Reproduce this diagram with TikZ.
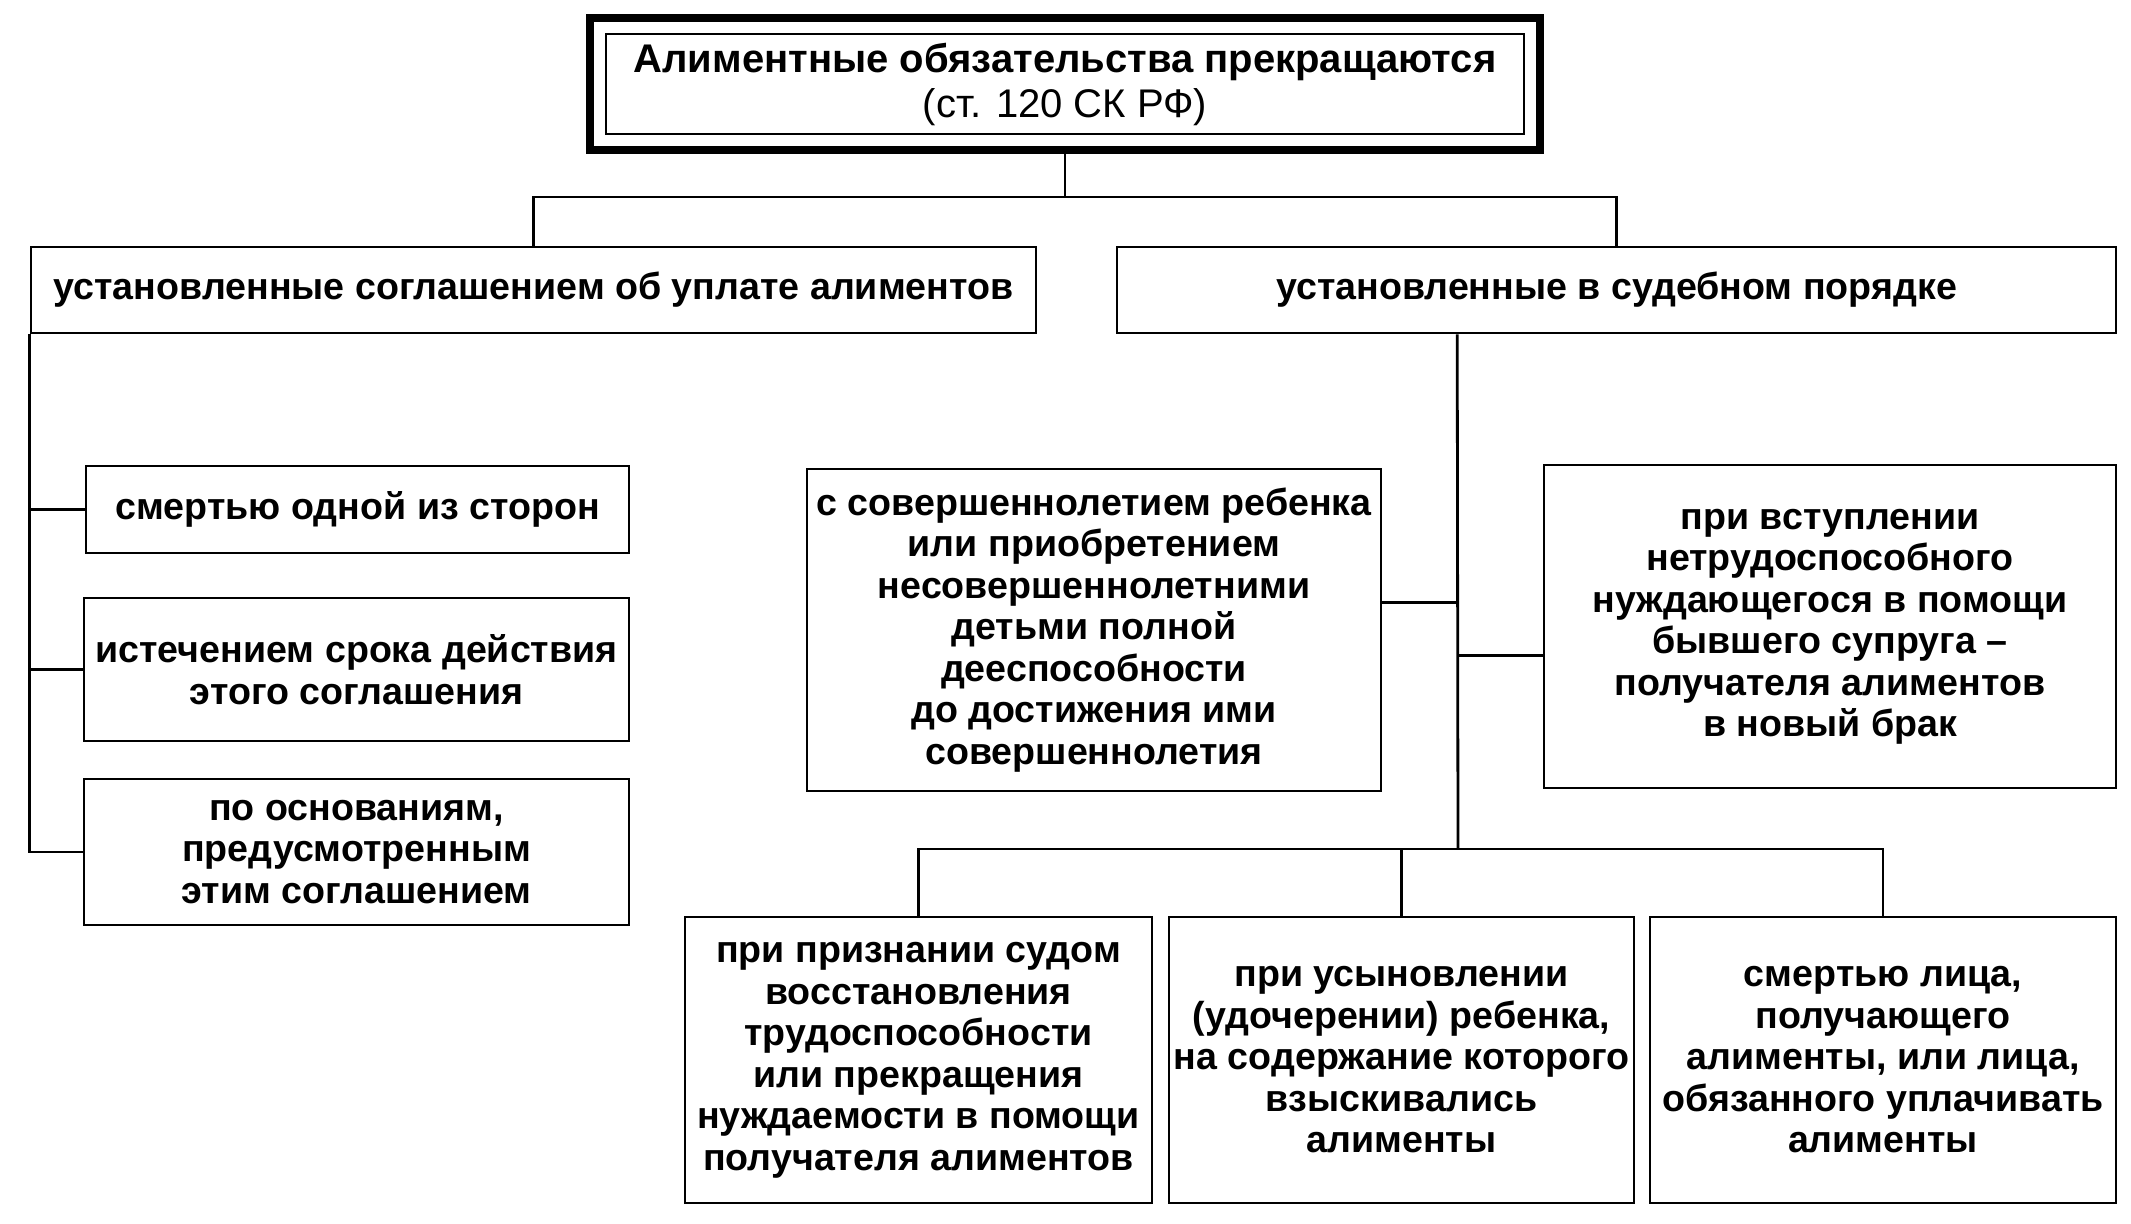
\documentclass[tikz,border=0pt]{standalone}
\usepackage{fontspec}
\setmainfont{Liberation Sans}
\usetikzlibrary{calc, fit}

\begin{document}
\begin{tikzpicture}[x=0.5pt, y=-0.5pt,
	box/.style={draw, line width=1.4pt, align=center, inner sep=1pt, font=\fontsize{18.8}{20.75}\selectfont\bfseries},
	link/.style={line width=1.4pt}]

	\useasboundingbox (0,0) rectangle (2131,1223);

	% Title
	\node[box, minimum width=459pt, minimum height=50pt, font=\fontsize{20}{22.5}\selectfont] (title) at (1065,84) {\textbf{Алиментные обязательства прекращаются}\\(ст. 120 СК РФ)};
	\node[draw, line width=4pt, fit=(title), inner sep=7.5pt] (frame) {};

	% Two kinds
	\node[box, minimum width=502.5pt, minimum height=43pt] (agr) at (533.5,290) {установленные соглашением об уплате алиментов};
	\node[box, minimum width=499.5pt, minimum height=43pt] (court) at (1616.5,290) {установленные в судебном порядке};

	% Left column
	\node[box, minimum width=271.5pt, minimum height=43.5pt] (death) at (357.5,509.5) {смертью одной из сторон};
	\node[box, minimum width=272.5pt, minimum height=71.5pt] (term) at (356.5,669.5) {истечением срока действия\\этого соглашения};
	\node[box, minimum width=272.5pt, minimum height=73pt] (other) at (356.5,852) {по основаниям,\\предусмотренным\\этим соглашением};

	% Middle row
	\node[box, minimum width=287pt, minimum height=161pt] (adult) at (1094,630) {с совершеннолетием ребенка\\или приобретением\\несовершеннолетними\\детьми полной\\дееспособности\\до достижения ими\\совершеннолетия};
	\node[box, minimum width=286pt, minimum height=161.5pt] (marriage) at (1830,626.5) {при вступлении\\нетрудоспособного\\нуждающегося в помощи\\бывшего супруга --\\получателя алиментов\\в новый брак};

	% Bottom row
	\node[box, minimum width=233.5pt, minimum height=143pt] (restore) at (918.5,1060) {при признании судом\\восстановления\\трудоспособности\\или прекращения\\нуждаемости в помощи\\получателя алиментов};
	\node[box, minimum width=232.5pt, minimum height=143pt] (adopt) at (1401.5,1060) {при усыновлении\\(удочерении) ребенка,\\на содержание которого\\взыскивались\\алименты};
	\node[box, minimum width=233pt, minimum height=143pt] (payer) at (1883,1060) {смертью лица,\\получающего\\алименты, или лица,\\обязанного уплачивать\\алименты};

	% Title to the two kinds
	\coordinate (fork) at (1065,197);
	\draw[link] (frame.south) -- (fork);
	\draw[link] (agr.north) -- (agr.north |- fork) -- (court.north |- fork) -- (court.north);

	% Left trunk
	\draw[link] (agr.south west) -- (agr.south west |- other.west) -- (other.west);
	\draw[link] (death.west) -- (death.west -| agr.south west);
	\draw[link] (term.west) -- (term.west -| agr.south west);

	% Right trunk
	\coordinate (cs) at ($(court.south west)!0.341!(court.south east)$);
	\coordinate (bar) at (1458,849);
	\draw[link] (cs) -- (bar);
	\coordinate (ae) at ($(adult.north east)!0.416!(adult.south east)$);
	\coordinate (mw) at ($(marriage.north west)!0.59!(marriage.south west)$);
	\draw[link] (ae) -- (ae -| cs);
	\draw[link] (mw) -- (mw -| cs);

	% Bottom row links
	\draw[link] (restore.north) -- (restore.north |- bar) -- (payer.north |- bar) -- (payer.north);
	\draw[link] (adopt.north) -- (adopt.north |- bar);

\end{tikzpicture}
\end{document}
